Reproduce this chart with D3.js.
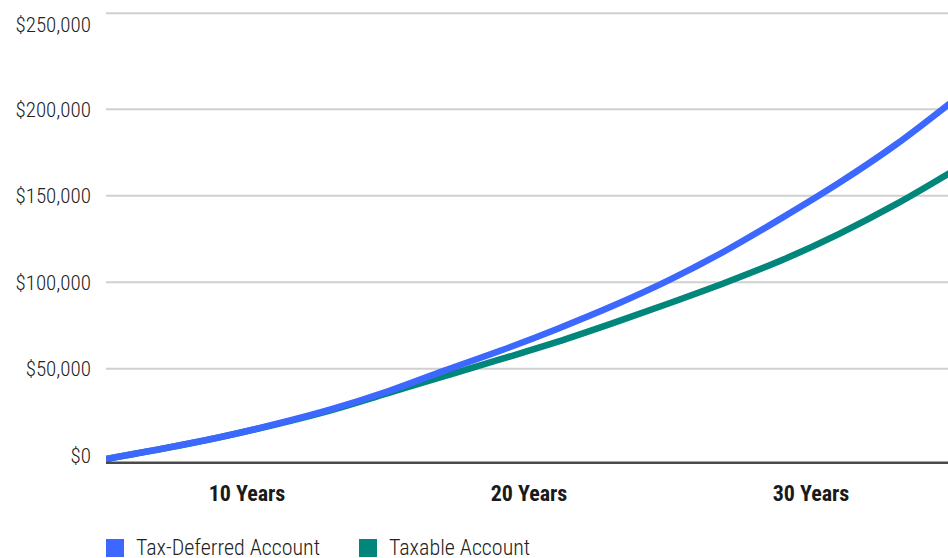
<!DOCTYPE html>
<html>
<head>
<meta charset="utf-8">
<script src="https://cdn.jsdelivr.net/npm/d3@7"></script>
<style>
  body { margin: 0; background: #fff; }
  svg text { font-family: "Roboto Condensed", "Liberation Sans Narrow", "DejaVu Sans Condensed", Roboto, sans-serif; }
</style>
</head>
<body>
<div id="growth_chart"></div>
<script>
// values (dollars), one point every 2 years
const years = [0, 2, 4, 6, 8, 10, 12, 14, 16, 18, 20, 22, 24, 26, 28, 30];
const taxDeferred = [2000, 7500, 13500, 20500, 28500, 38000, 49000, 60500, 73000, 86500, 101500, 118500, 137500, 157500, 179500, 204000];
const taxable = [2000, 7400, 13400, 20300, 28000, 37000, 46000, 55500, 65500, 76500, 88000, 100000, 113000, 128000, 145000, 164000];

const periodLabels = ["10 Years", "20 Years", "30 Years"];
const yTicks = [0, 50000, 100000, 150000, 200000, 250000];
const seriesNames = ["Tax-Deferred Account", "Taxable Account"];
const seriesColors = ["#3d68ff", "#00867a"];

const width = 948, height = 558;
const left = 106, right = 952;
const baseY = 462.7;

const svg = d3.select("#growth_chart")
    .append("svg")
    .attr("width", width)
    .attr("height", height);

// x: a linear scale for the lines, a band scale for the period labels
const x = d3.scaleLinear()
    .domain([0, 30])
    .range([left, right]);

const xBand = d3.scaleBand()
    .domain(periodLabels)
    .range([left, right]);

// the gaps in the picture are not even, so the y scale is piecewise
const y = d3.scaleLinear()
    .domain([0, 50000, 200000, 250000])
    .range([baseY, 368.7, 109.3, 13.3]);

// gridlines
svg.append("g")
    .selectAll("line")
    .data(yTicks.filter(d => d > 0))
    .join("line")
    .attr("x1", left)
    .attr("x2", width)
    .attr("y1", d => y(d))
    .attr("y2", d => y(d))
    .attr("stroke", "#d0d0d0")
    .attr("stroke-width", 2);

// y labels, kept inside the plot vertically
const fmt = d3.format("$,");
svg.append("g")
    .selectAll("text")
    .data(yTicks)
    .join("text")
    .attr("x", 91)
    .attr("y", d => Math.min(Math.max(y(d), 24.5), 455.7))
    .attr("dy", "0.35em")
    .attr("text-anchor", "end")
    .attr("fill", "#222")
    .style("font-size", "21px")
    .style("font-weight", 300)
    .text(d => fmt(d));

// lines, clipped to the plot area
svg.append("clipPath")
    .attr("id", "plot_clip")
    .append("rect")
    .attr("x", left)
    .attr("y", 0)
    .attr("width", right - left)
    .attr("height", baseY);

const line = d3.line()
    .x((d, i) => x(years[i]))
    .y(d => y(d))
    .curve(d3.curveMonotoneX);

svg.append("g")
    .attr("clip-path", "url(#plot_clip)")
    .selectAll("path")
    .data([taxable, taxDeferred])
    .join("path")
    .attr("d", d => line(d))
    .attr("fill", "none")
    .attr("stroke", (d, i) => i === 0 ? seriesColors[1] : seriesColors[0])
    .attr("stroke-width", 6.5)
    .attr("stroke-linecap", "butt");

// x axis line
svg.append("line")
    .attr("x1", left)
    .attr("x2", width)
    .attr("y1", baseY)
    .attr("y2", baseY)
    .attr("stroke", "#4a4a4a")
    .attr("stroke-width", 2.5);

// period labels
const xAxis = svg.append("g")
    .attr("transform", `translate(0, ${baseY})`)
    .call(d3.axisBottom(xBand).tickSize(0).tickPadding(0));
xAxis.attr("font-family", null);
xAxis.select(".domain").remove();
xAxis.selectAll("text")
    .attr("y", 38)
    .attr("dy", 0)
    .attr("fill", "#1a1a1a")
    .style("font-size", "22px")
    .style("font-weight", "bold");

// legend
const legendX = [106, 359];
const legend = svg.append("g")
    .selectAll("g")
    .data(seriesNames)
    .join("g")
    .attr("transform", (d, i) => `translate(${legendX[i]}, 539)`);

legend.append("rect")
    .attr("width", 18)
    .attr("height", 18)
    .attr("fill", (d, i) => seriesColors[i]);

legend.append("text")
    .attr("x", 30)
    .attr("y", 16)
    .attr("fill", "#222")
    .style("font-size", "22px")
    .style("font-weight", 300)
    .text(d => d);
</script>
</body>
</html>
